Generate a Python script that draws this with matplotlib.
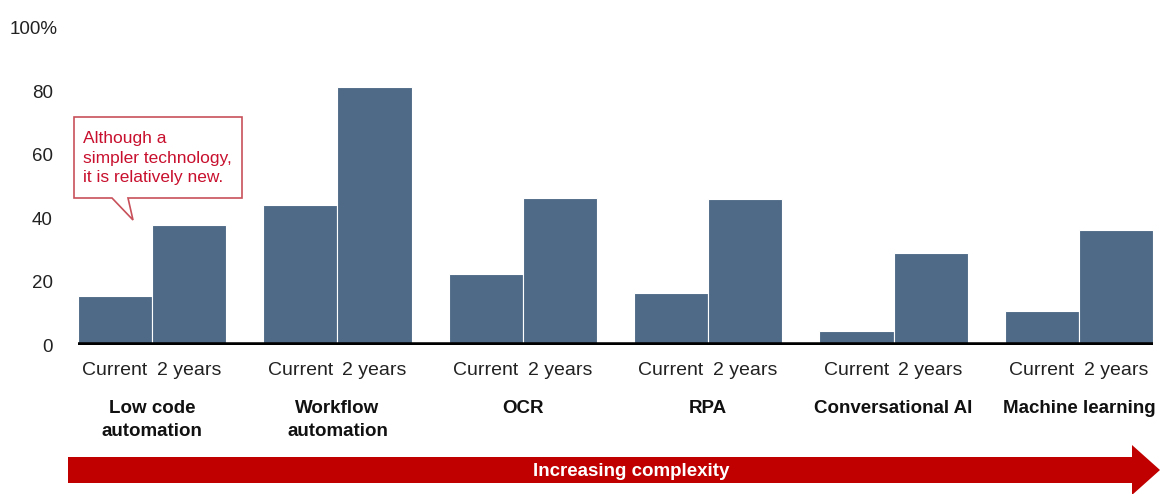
import numpy as np
import matplotlib
matplotlib.use("Agg")
import matplotlib.pyplot as plt
from matplotlib.patches import Polygon, FancyArrow

plt.rcParams['font.family'] = ['Liberation Sans', 'DejaVu Sans']

categories = ["Low code\nautomation", "Workflow\nautomation", "OCR", "RPA",
              "Conversational AI", "Machine learning"]
current = [15.5, 44.3, 22.5, 16.4, 4.4, 10.8]
two_years = [38.0, 81.3, 46.5, 46.2, 29.1, 36.4]
period_labels = ["Current", "2 years"]
y_ticks = [0, 20, 40, 60, 80]

BAR = "#4f6a87"
RED = "#c00000"
W, H = 1162, 494


def px(x, y):
    """pixel (top-left origin) -> figure fraction"""
    return (x / W, 1 - y / H)


fig = plt.figure(figsize=(W / 100, H / 100), dpi=100)
ax = fig.add_axes([78 / W, 149 / H, (1153 - 78) / W, (345 - 28) / H])

x = np.arange(len(categories))
width = 0.4
ax.bar(x - width / 2, current, width, color=BAR, edgecolor="white", linewidth=0.8, zorder=2)
ax.bar(x + width / 2, two_years, width, color=BAR, edgecolor="white", linewidth=0.8, zorder=2)
ax.axhline(0, color="black", linewidth=4, zorder=3)

ax.set_xlim(-0.4, len(categories) - 0.6)
ax.set_ylim(0, 100)

for s in ax.spines.values():
    s.set_visible(False)

ax.set_yticks(y_ticks)
ax.set_yticklabels([str(t) for t in y_ticks], fontsize=13.5, color="#222222")
ax.tick_params(axis="y", length=0, pad=18)
fig.text(*px(58, 29), "100%", ha="right", va="center", fontsize=13.5, color="#222222")

ticks = np.concatenate([x - width / 2, x + width / 2])
ax.set_xticks(ticks)
ax.set_xticklabels([period_labels[0]] * len(x) + [period_labels[1]] * len(x),
                   fontsize=14, color="#222222")
ax.tick_params(axis="x", length=0, pad=12.5)

for i, cat in enumerate(categories):
    ax.text(i, -(400 - 345) / 317, cat, transform=ax.get_xaxis_transform(), ha="center",
            va="top", fontsize=13.5, fontweight="bold", color="#111111", linespacing=1.45)

# callout
callout = Polygon([px(74, 117), px(242, 117), px(242, 198), px(128, 198), px(133, 220),
                   px(112, 198), px(74, 198)], closed=True, transform=fig.transFigure,
                  facecolor="white", edgecolor="#c8505a", linewidth=1.2, zorder=5)
fig.add_artist(callout)
fig.text(*px(83, 158), "Although a\nsimpler technology,\nit is relatively new.",
         ha="left", va="center", fontsize=12.5, color="#c8102e", linespacing=1.4, zorder=6)

# complexity arrow
x0, y0 = px(68, 470)
x1, _ = px(1160, 470)
arrow = FancyArrow(x0, y0, x1 - x0, 0, width=26 / H, head_width=50 / H, head_length=28 / W,
                   length_includes_head=True, transform=fig.transFigure,
                   color=RED, linewidth=0)
fig.add_artist(arrow)
fig.text(*px(631, 471), "Increasing complexity", ha="center", va="center",
         fontsize=13.5, fontweight="bold", color="white")

fig.savefig("out.png", dpi=100)
